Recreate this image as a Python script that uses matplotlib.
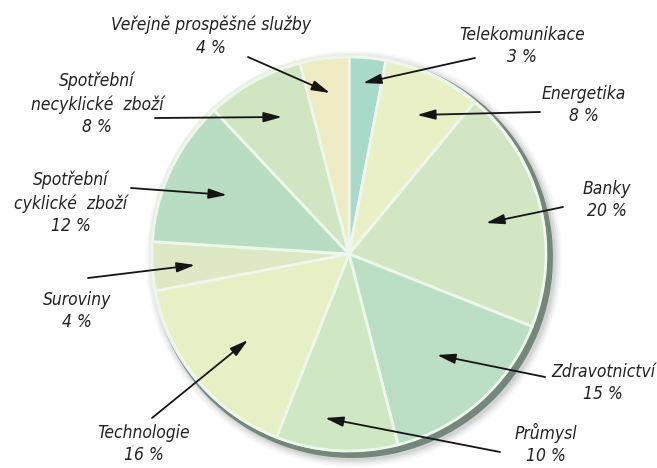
import matplotlib
matplotlib.use("Agg")
import matplotlib.pyplot as plt
from matplotlib.patches import Circle

plt.rcParams['font.family'] = ['DejaVu Sans']

# sectors, clockwise from 12 o'clock
sectors = ["Telekomunikace", "Energetika", "Banky", "Zdravotnictví", "Průmysl",
           "Technologie", "Suroviny", "Spotřební\ncyklické  zboží",
           "Spotřební\nnecyklické  zboží", "Veřejně prospěšné služby"]
shares = [3, 8, 20, 15, 10, 16, 4, 12, 8, 4]
colors = ["#a9dac9", "#eaf0c6", "#d3e6c4", "#bbdfc5", "#d0e7c3",
          "#e7efc5", "#dde9c5", "#b9ddc2", "#d0e5c1", "#eeeac2"]

# label text position and arrow start (pixels in a 657x468 picture)
label_xy = [(522, 46), (584, 105), (607, 200), (603, 383), (546, 444),
            (144, 444), (77, 311), (71, 203), (97, 104), (211, 36)]
arrow_from = [(475, 58), (540, 112), (563, 207), (545, 377), (500, 452),
              (152, 418), (88, 278), (131, 188), (155, 118), (248, 57)]
arrow_to = [(363, 83), (417, 115), (486, 223), (437, 355), (325, 418),
            (248, 340), (195, 265), (227, 195), (282, 117), (330, 93)]

W, H = 657, 468
fig = plt.figure(figsize=(W / 100, H / 100), dpi=100)
ax = fig.add_axes([0, 0, 1, 1])

cx, cy, r = 349, 254, 197

# soft shadow / rim of the plate
for k, a in enumerate([0.04, 0.06, 0.08, 0.11]):
    ax.add_patch(Circle((cx + 5, cy + 5), r + 11 - 2 * k, color="#4f5f55", alpha=a, lw=0))
ax.add_patch(Circle((cx + 3, cy + 3), r + 4, color="#74877a", lw=0))
ax.add_patch(Circle((cx - 1, cy - 1), r + 2, color="#e9f0e7", lw=0))

# pie drawn in normal orientation then flipped by the inverted axis
ax.pie(shares, colors=colors, startangle=-90, counterclock=True,
       center=(cx, cy), radius=r, frame=True,
       wedgeprops=dict(edgecolor="#eef7ec", linewidth=2))
ax.set_xlim(0, W)
ax.set_ylim(H, 0)
ax.set_aspect('equal')
ax.axis('off')

for name, share, (tx, ty), p0, p1 in zip(sectors, shares, label_xy, arrow_from, arrow_to):
    ax.text(tx, ty, f"{name}\n{share} %", ha='center', va='center', style='italic',
            fontsize=12.5, fontstretch='condensed', color="#222222", linespacing=1.35)
    ax.annotate("", xy=p1, xytext=p0,
                arrowprops=dict(arrowstyle="-|>,head_length=1.1,head_width=0.3",
                                lw=1.3, color="#151515", shrinkA=0, shrinkB=0))

fig.savefig("out.png", dpi=100)
